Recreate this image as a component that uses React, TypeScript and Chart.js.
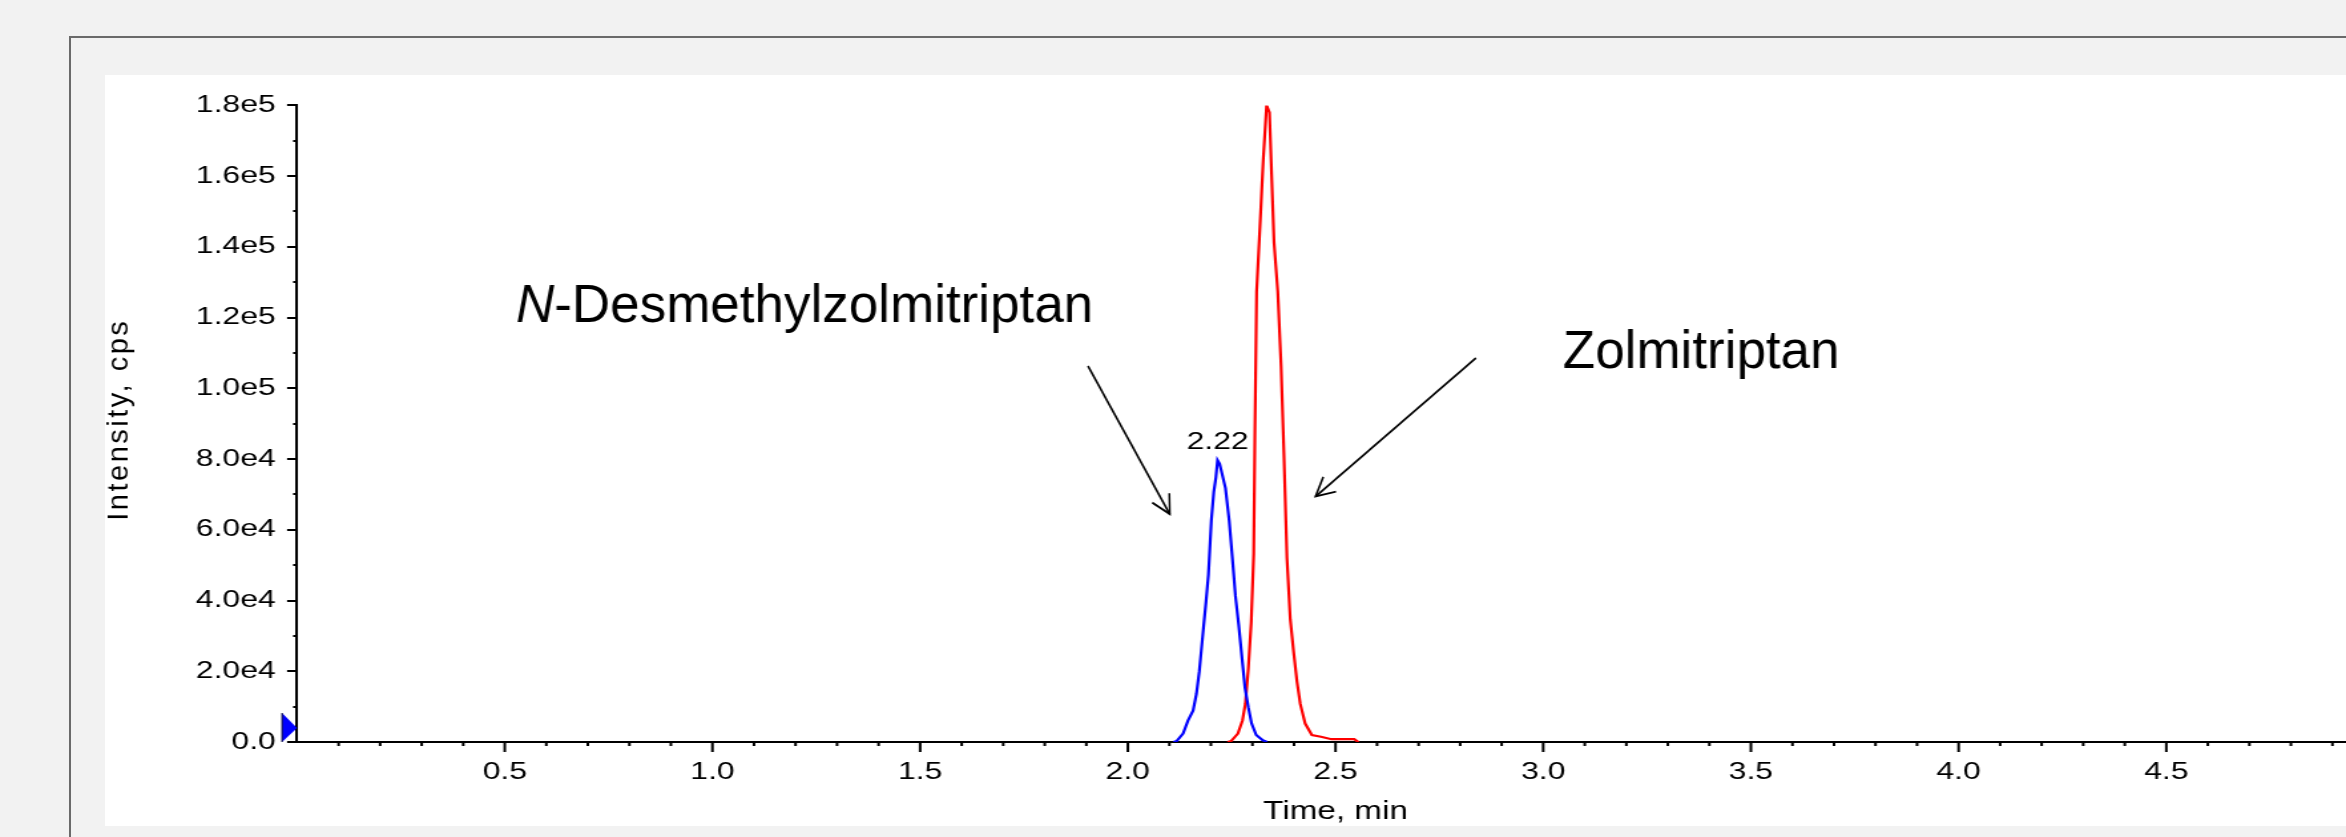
import React, { useEffect, useRef } from 'react';
import { Chart, registerables } from 'chart.js';

Chart.register(...registerables);

// ---------- data ----------
const xTickLabels = ['', '0.5', '1.0', '1.5', '2.0', '2.5', '3.0', '3.5', '4.0', '4.5', '5.0'];
const yTickLabels = ['0.0', '2.0e4', '4.0e4', '6.0e4', '8.0e4', '1.0e5', '1.2e5', '1.4e5', '1.6e5', '1.8e5'];

// N-Desmethylzolmitriptan (blue trace)
const desmethylTime = [2.110, 2.118, 2.133, 2.145, 2.157, 2.165, 2.172, 2.180, 2.188, 2.194, 2.201, 2.207, 2.212, 2.216, 2.221, 2.227, 2.235, 2.244, 2.252, 2.259, 2.267, 2.275, 2.282, 2.290, 2.298, 2.309, 2.325, 2.335];
const desmethylIntensity = [0, 300, 2400, 6200, 9000, 13800, 20300, 30200, 40000, 48000, 63600, 72000, 76000, 81000, 80000, 77000, 73000, 63600, 52300, 42000, 33600, 24000, 15600, 10000, 5300, 2000, 500, 0];

// Zolmitriptan (red trace)
const zolmiTime = [2.240, 2.249, 2.265, 2.276, 2.283, 2.290, 2.297, 2.303, 2.306, 2.310, 2.318, 2.326, 2.334, 2.341, 2.346, 2.352, 2.361, 2.369, 2.376, 2.383, 2.391, 2.399, 2.407, 2.415, 2.427, 2.443, 2.465, 2.490, 2.545, 2.555];
const zolmiIntensity = [0, 300, 2400, 6200, 11000, 21000, 34400, 54000, 90000, 129500, 148000, 167500, 183000, 181000, 163700, 143600, 129500, 108000, 81900, 53000, 35300, 26000, 17500, 11000, 5300, 2000, 1500, 800, 800, 0];

const axisRange = { xMin: 0, xMax: 5, xStep: 0.5, xMinorPerMajor: 5, yMin: 0, yMax: 183000, yStep: 20000, yMinorPerMajor: 2 };

// annotations (in data units: time, intensity)
const annotations = {
  desmethyl: { italic: 'N', rest: '-Desmethylzolmitriptan', t: 0.527, v: 120700 },
  zolmi: { text: 'Zolmitriptan', t: 3.047, v: 107400 },
  arrows: [
    { fromT: 1.904, fromV: 108100, toT: 2.101, toV: 65500 },
    { fromT: 2.838, fromV: 110400, toT: 2.452, toV: 70600 },
  ],
};

// ---------- styling ----------
const STRETCH = 1.33; // horizontal stretch of the chart picture
const FONT = '"Liberation Sans", Arial, Helvetica, sans-serif';
const CANVAS_W = 1746;
const CANVAS_H = 751;

const decorPlugin = {
  id: 'decor',
  afterDraw(chart: any) {
    const { ctx, chartArea, scales } = chart;
    const xs = scales.x;
    const ys = scales.y;
    ctx.save();
    ctx.strokeStyle = '#000';
    ctx.fillStyle = '#000';
    ctx.lineWidth = 2;
    ctx.lineCap = 'butt';

    // y tick marks (major + minor)
    const yMajors = ys.ticks.map((t: any) => t.value);
    const yVals: { v: number; major: boolean }[] = [];
    yMajors.forEach((v: number, i: number) => {
      yVals.push({ v, major: true });
      if (i < yMajors.length - 1) {
        const step = (yMajors[i + 1] - v) / axisRange.yMinorPerMajor;
        for (let k = 1; k < axisRange.yMinorPerMajor; k++) yVals.push({ v: v + k * step, major: false });
      }
    });
    yVals.forEach(({ v, major }) => {
      const y = Math.round(ys.getPixelForValue(v));
      const len = (major ? 10 : 4) / STRETCH;
      ctx.beginPath();
      ctx.moveTo(chartArea.left, y);
      ctx.lineTo(chartArea.left - len, y);
      ctx.stroke();
    });

    // x tick marks (major + minor)
    const xMajors = xs.ticks.map((t: any) => t.value);
    const xVals: { v: number; major: boolean }[] = [];
    xMajors.forEach((v: number, i: number) => {
      xVals.push({ v, major: true });
      if (i < xMajors.length - 1) {
        const step = (xMajors[i + 1] - v) / axisRange.xMinorPerMajor;
        for (let k = 1; k < axisRange.xMinorPerMajor; k++) xVals.push({ v: v + k * step, major: false });
      }
    });
    xVals.forEach(({ v, major }) => {
      if (v === 0) return;
      const x = xs.getPixelForValue(v);
      const len = major ? 10 : 4;
      ctx.beginPath();
      ctx.moveTo(x, chartArea.bottom);
      ctx.lineTo(x, chartArea.bottom + len);
      ctx.stroke();
    });

    // baseline marker triangle at the y axis
    const y0 = ys.getPixelForValue(0);
    const triW = 15 / STRETCH;
    ctx.beginPath();
    ctx.moveTo(chartArea.left - triW, y0 - 29);
    ctx.lineTo(chartArea.left, y0 - 14);
    ctx.lineTo(chartArea.left - triW, y0);
    ctx.closePath();
    ctx.fillStyle = '#0000ff';
    ctx.fill();
    ctx.strokeStyle = '#000033';
    ctx.lineWidth = 1;
    ctx.beginPath();
    ctx.moveTo(chartArea.left - triW, y0 - 29);
    ctx.lineTo(chartArea.left - triW, y0);
    ctx.stroke();

    // peak label on the blue trace
    const blue = chart.data.datasets[0].data as { x: number; y: number }[];
    let best = blue[0];
    blue.forEach((p) => { if (p.y > best.y) best = p; });
    ctx.fillStyle = '#000';
    ctx.font = `24px ${FONT}`;
    ctx.textAlign = 'center';
    ctx.textBaseline = 'middle';
    ctx.fillText(best.x.toFixed(2), xs.getPixelForValue(best.x), ys.getPixelForValue(best.y) - 17.5);

    // y-axis title (drawn without horizontal stretch)
    ctx.save();
    ctx.translate(chartArea.left - 178 / STRETCH, (chartArea.top + chartArea.bottom) / 2 - 3);
    ctx.scale(1 / STRETCH, 1);
    ctx.rotate(-Math.PI / 2);
    ctx.font = `29px ${FONT}`;
    (ctx as any).letterSpacing = '2.5px';
    ctx.textAlign = 'center';
    ctx.textBaseline = 'middle';
    ctx.fillText('Intensity, cps', 1, 0);
    ctx.restore();

    // annotations + arrows, unstretched
    ctx.save();
    ctx.scale(1 / STRETCH, 1);
    const px = (t: number) => xs.getPixelForValue(t) * STRETCH;
    const py = (v: number) => ys.getPixelForValue(v);
    ctx.fillStyle = '#000';
    ctx.textAlign = 'left';
    ctx.textBaseline = 'alphabetic';
    const d = annotations.desmethyl;
    ctx.font = `italic 53px ${FONT}`;
    ctx.fillText(d.italic, px(d.t), py(d.v));
    const wN = ctx.measureText(d.italic).width;
    ctx.font = `53px ${FONT}`;
    ctx.fillText(d.rest, px(d.t) + wN, py(d.v));
    const z = annotations.zolmi;
    ctx.fillText(z.text, px(z.t), py(z.v));

    ctx.strokeStyle = '#000';
    ctx.lineWidth = 2;
    annotations.arrows.forEach((a) => {
      const x1 = px(a.fromT), y1 = py(a.fromV), x2 = px(a.toT), y2 = py(a.toV);
      ctx.beginPath();
      ctx.moveTo(x1, y1);
      ctx.lineTo(x2, y2);
      ctx.stroke();
      const ang = Math.atan2(y1 - y2, x1 - x2);
      const L = 21, spread = Math.PI / 6.5;
      ctx.beginPath();
      ctx.moveTo(x2 + L * Math.cos(ang - spread), y2 + L * Math.sin(ang - spread));
      ctx.lineTo(x2, y2);
      ctx.lineTo(x2 + L * Math.cos(ang + spread), y2 + L * Math.sin(ang + spread));
      ctx.stroke();
    });
    ctx.restore();

    ctx.restore();
  },
};

export default function App() {
  const canvasRef = useRef<HTMLCanvasElement | null>(null);

  useEffect(() => {
    if (!canvasRef.current) return;
    const bluePts = desmethylTime.map((t, i) => ({ x: t, y: desmethylIntensity[i] }));
    const redPts = zolmiTime.map((t, i) => ({ x: t, y: zolmiIntensity[i] }));
    const tickFont = { family: FONT, size: 24 };
    const chart = new Chart(canvasRef.current, {
      type: 'line',
      data: {
        datasets: [
          { label: 'N-Desmethylzolmitriptan', data: bluePts, borderColor: '#0000ff', borderWidth: 2.2, pointRadius: 0, tension: 0, fill: false },
          { label: 'Zolmitriptan', data: redPts, borderColor: '#ff0000', borderWidth: 2.2, pointRadius: 0, tension: 0, fill: false },
        ],
      },
      options: {
        animation: false,
        responsive: false,
        maintainAspectRatio: false,
        devicePixelRatio: 1,
        layout: { padding: { left: 0, top: 18, right: 40, bottom: 0 } },
        plugins: { legend: { display: false }, tooltip: { enabled: false } },
        events: [],
        scales: {
          x: {
            type: 'linear',
            min: axisRange.xMin,
            max: axisRange.xMax,
            grid: { display: false, drawTicks: false },
            border: { display: true, color: '#000', width: 2 },
            ticks: {
              stepSize: axisRange.xStep,
              autoSkip: false,
              maxRotation: 0,
              includeBounds: false,
              padding: 16,
              color: '#000',
              font: tickFont,
              callback: (_v: any, i: number) => xTickLabels[i],
            },
            title: { display: true, text: 'Time, min', color: '#000', font: { family: FONT, size: 25, lineHeight: 1.12 }, padding: 0 },
            afterFit: (s: any) => { s.height = 84; },
          },
          y: {
            type: 'linear',
            min: axisRange.yMin,
            max: axisRange.yMax,
            grid: { display: false, drawTicks: false },
            border: { display: true, color: '#000', width: 2 },
            ticks: {
              stepSize: axisRange.yStep,
              autoSkip: false,
              includeBounds: false,
              padding: 16,
              color: '#000',
              font: tickFont,
              callback: (_v: any, i: number) => yTickLabels[i],
            },
            title: { display: false },
            afterFit: (s: any) => { s.width = 144.4; },
          },
        },
      },
      plugins: [decorPlugin],
    } as any);
    return () => chart.destroy();
  }, []);

  return (
    <div style={{ position: 'fixed', left: 0, top: 0, width: 2346, height: 837, overflow: 'hidden', background: '#f2f2f2' }}>
      <div style={{ position: 'absolute', left: 69, top: 36, width: 3000, height: 1000, borderLeft: '2px solid #6a6a6a', borderTop: '2px solid #6a6a6a' }} />
      <div style={{ position: 'absolute', left: 105, top: 75, width: 3000, height: 751, background: '#ffffff' }} />
      <div style={{ position: 'absolute', left: 105, top: 75, width: CANVAS_W, height: CANVAS_H, transform: `scaleX(${STRETCH})`, transformOrigin: '0 0' }}>
        <canvas ref={canvasRef} width={CANVAS_W} height={CANVAS_H} style={{ display: 'block' }} />
      </div>
    </div>
  );
}
